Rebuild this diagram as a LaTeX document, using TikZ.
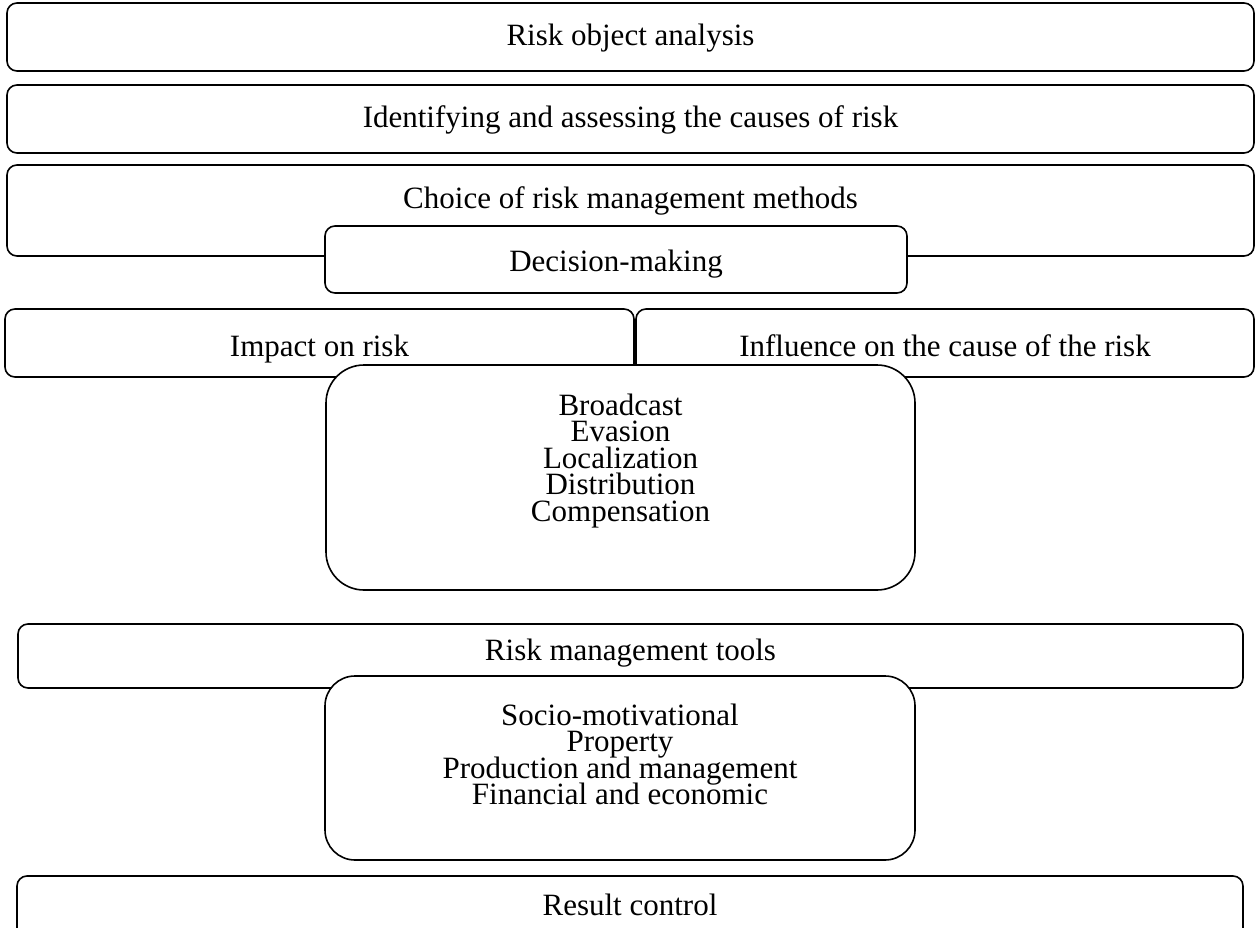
\documentclass[tikz,border=0pt]{standalone}
\usepackage{fontspec}
\setmainfont{Liberation Serif}
\newcommand\stacklines[1]{\vtop{\baselineskip=26.5pt\lineskiplimit=-100pt\halign{\hfil##\hfil\cr#1\crcr}}}
\begin{document}
\begin{tikzpicture}[x=1pt,y=-1pt,
  box/.style={draw=black,line width=1.6pt,fill=white,rounded corners=10pt,inner sep=0pt},
  bigbox/.style={box,rounded corners=38pt},
  midbox/.style={box,rounded corners=30pt},
  txt/.style={inner sep=0pt,anchor=base,font=\fontsize{31}{26.5}\selectfont}]
\clip (0,0) rectangle (1255,928);
\useasboundingbox (0,0) rectangle (1255,928);
% row 1
\node[box,minimum width=1247pt,minimum height=68pt] (b1) at (630.5,37) {};
\node[txt] (t1) at (630.5,45.5) {Risk object analysis};
% row 2
\node[box,minimum width=1247pt,minimum height=68pt] (b2) at (630.5,119) {};
\node[txt] (t2) at (630.5,127.5) {Identifying and assessing the causes of risk};
% row 3
\node[box,minimum width=1247pt,minimum height=91pt] (b3) at (630.5,210.5) {};
\node[txt] (t3) at (630.5,208.5) {Choice of risk management methods};
\node[box,minimum width=582pt,minimum height=67pt] (dec) at (616,259.5) {};
\node[txt] (tdec) at (616,271) {Decision-making};
% row 4
\node[box,minimum width=629pt,minimum height=68pt] (imp) at (319.5,343) {};
\node[txt] (timp) at (319.5,356) {Impact on risk};
\node[box,minimum width=618pt,minimum height=68pt] (inf) at (945,343) {};
\node[txt] (tinf) at (945,356) {Influence on the cause of the risk};
\node[bigbox,minimum width=589pt,minimum height=225pt] (br) at (620.5,477.5) {};
\node[txt] (tbr) at (620.5,415) {\stacklines{Broadcast\cr Evasion\cr Localization\cr Distribution\cr Compensation}};
% row 5
\node[box,minimum width=1225pt,minimum height=64pt] (tools) at (630.5,656) {};
\node[txt] (ttools) at (630.5,660) {Risk management tools};
\node[midbox,minimum width=590pt,minimum height=184pt] (so) at (620,768) {};
\node[txt] (tso) at (620,725) {\stacklines{Socio-motivational\cr Property\cr Production and management\cr Financial and economic}};
% row 6
\node[box,minimum width=1226pt,minimum height=70pt] (res) at (630,911) {};
\node[txt] (tres) at (630,915.5) {Result control};
\end{tikzpicture}
\end{document}
